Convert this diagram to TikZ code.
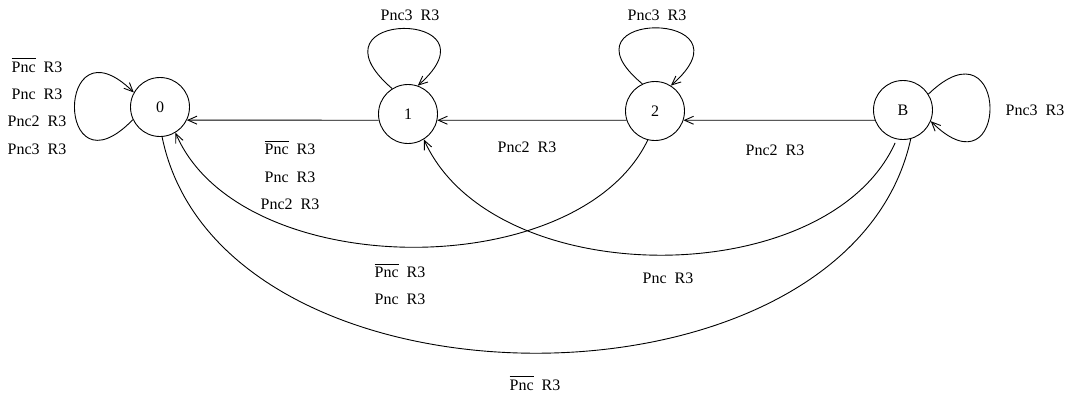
\documentclass[tikz,border=0pt]{standalone}
\usepackage{fontspec}
\setmainfont{Liberation Serif}
\usetikzlibrary{arrows.meta}

\newcommand{\pncbar}{$\overline{\hbox{Pnc}}$}

\begin{document}
\begin{tikzpicture}[x=0.5pt, y=-0.5pt, >={Straight Barb[length=4.5pt,width=4pt]}, line width=0.45pt,
	every node/.style={font=\fontsize{8}{13.7}\selectfont}]
	\tikzstyle{state} = [circle, draw, minimum size=29.5pt, inner sep=0pt]
	\tikzstyle{lab} = [align=center, inner sep=0pt]
	\useasboundingbox (0,0) rectangle (1067,402);
	% states
	\node[state](s0)at (160,107){0};
	\node[state](s1)at (408,114){1};
	\node[state](s2)at (655,111){2};
	\node[state](sB)at (903,110){B};
	% labels
	\node[lab](l00)at (37,106){\pncbar\enspace R3\\Pnc\enspace R3\\Pnc2\enspace R3\\Pnc3\enspace R3};
	\node[lab](l11)at (410,15){Pnc3\enspace R3};
	\node[lab](l22)at (657,15){Pnc3\enspace R3};
	\node[lab](lBB)at (1035,110){Pnc3\enspace R3};
	\node[lab](l10)at (290,175){\pncbar\enspace R3\\Pnc\enspace R3\\Pnc2\enspace R3};
	\node[lab](l21)at (527,147){Pnc2\enspace R3};
	\node[lab](lB2)at (775,150){Pnc2\enspace R3};
	\node[lab](l20)at (400,284){\pncbar\enspace R3\\Pnc\enspace R3};
	\node[lab](lB1)at (668,278){Pnc\enspace R3};
	\node[lab](lB0)at (535,383){\pncbar\enspace R3};
	% straight transitions
	\path[->] (s1.192) edge (s0.-26)
	(s2.198) edge (s1.-12)
	(sB.200) edge (s2.-18);
	% self loops
	\draw[->] (s0.205) .. controls (55,200) and (55,15) .. (s0.151);
	\draw[->] (s1.122) .. controls (300,9) and (505,9) .. (s1.71);
	\draw[->] (s2.115) .. controls (552,9) and (759,9) .. (s2.58);
	\draw[->] (sB.32) .. controls (1010,15) and (1010,200) .. (sB.-22);
	% long transitions below
	\draw[->] (s2.256) .. controls (578,285) and (240,283) .. (s0.-59);
	\draw[->, shorten <=2pt] (sB.258) .. controls (827,293) and (493,293) .. (s1.-58);
	\draw (sB.-75) .. controls (848,425) and (221,425) .. (s0.-86);
\end{tikzpicture}
\end{document}
